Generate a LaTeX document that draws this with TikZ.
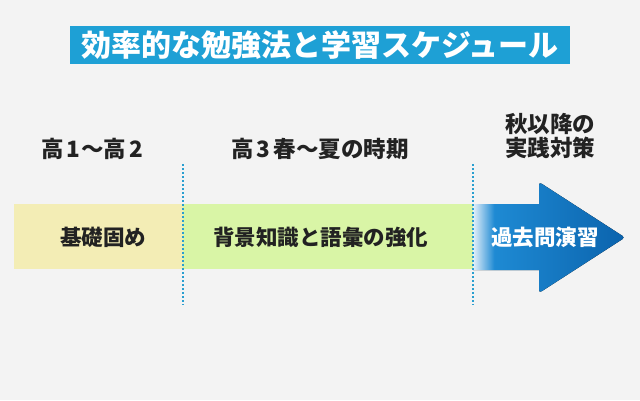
\documentclass[tikz,border=0pt]{standalone}
\usepackage{fontspec}
\setmainfont{Noto Sans CJK JP}
\usepackage{tikz}
\usetikzlibrary{positioning}
\usepackage{xcolor}

\definecolor{bgGray}{HTML}{F3F3F3}
\definecolor{titleBlue}{HTML}{1EA0D5}
\definecolor{baseYellow}{HTML}{F3EDB5}
\definecolor{baseGreen}{HTML}{D9F5A6}
\definecolor{lineBlue}{HTML}{2A9FD0}
\definecolor{inkDark}{HTML}{222222}
\definecolor{shadeA}{HTML}{E4F0FA}
\definecolor{shadeB}{HTML}{1E8AD3}
\definecolor{shadeC}{HTML}{0B63AD}

\pgfdeclarehorizontalshading{pastshade}{100bp}{color(0bp)=(shadeA); color(25bp)=(shadeA); color(32bp)=(shadeB); color(75bp)=(shadeC); color(100bp)=(shadeC)}

\begin{document}
\begin{tikzpicture}[x=1pt, y=-1pt,
  termlabel/.style={font=\bfseries\fontsize{22.5}{24}\selectfont, text=inkDark, inner sep=0pt},
  steplabel/.style={font=\bfseries\fontsize{21.5}{24}\selectfont, text=inkDark, inner sep=0pt},
  divider/.style={lineBlue, line width=1.3pt, dash pattern=on 2pt off 2pt}]

\useasboundingbox[fill=bgGray] (0,0) rectangle (640,400);

% Draw the title
\node[fill=titleBlue, text=white, font=\bfseries\fontsize{30}{32}\selectfont,
      minimum width=500pt, minimum height=38pt, inner sep=0pt] (title) at (320,45) {効率的な勉強法と学習スケジュール};

% Periods
\node[termlabel] (termA) at (92,149) {高\kern3pt1\kern1pt〜高\kern3pt2};
\node[termlabel] (termB) at (320,149) {高\kern3pt3\kern3pt春〜夏の時期};
\node[termlabel, align=center] (termC) at (550,136) {秋以降の\\実践対策};

% Draw the bars
\fill[baseYellow] (14,204) rectangle (183,269);
\fill[baseGreen] (183,204) rectangle (473,269);
\fill[shading=pastshade] (473,204) -- (539,204) [rounded corners=3pt] -- (539,182) -- (625,237.5) -- (539,293) [sharp corners] -- (539,270) -- (473,270) -- cycle;

% Dotted dividers
\draw[divider] (183,164) -- (183,305);
\draw[divider] (473,164) -- (473,305);

% Contents
\node[steplabel] (stepA) at (103,237) {基礎固め};
\node[steplabel] (stepB) at (320.5,237) {背景知識と語彙の強化};
\node[steplabel, text=white] (stepC) at (545,237) {過去問演習};

\end{tikzpicture}
\end{document}
